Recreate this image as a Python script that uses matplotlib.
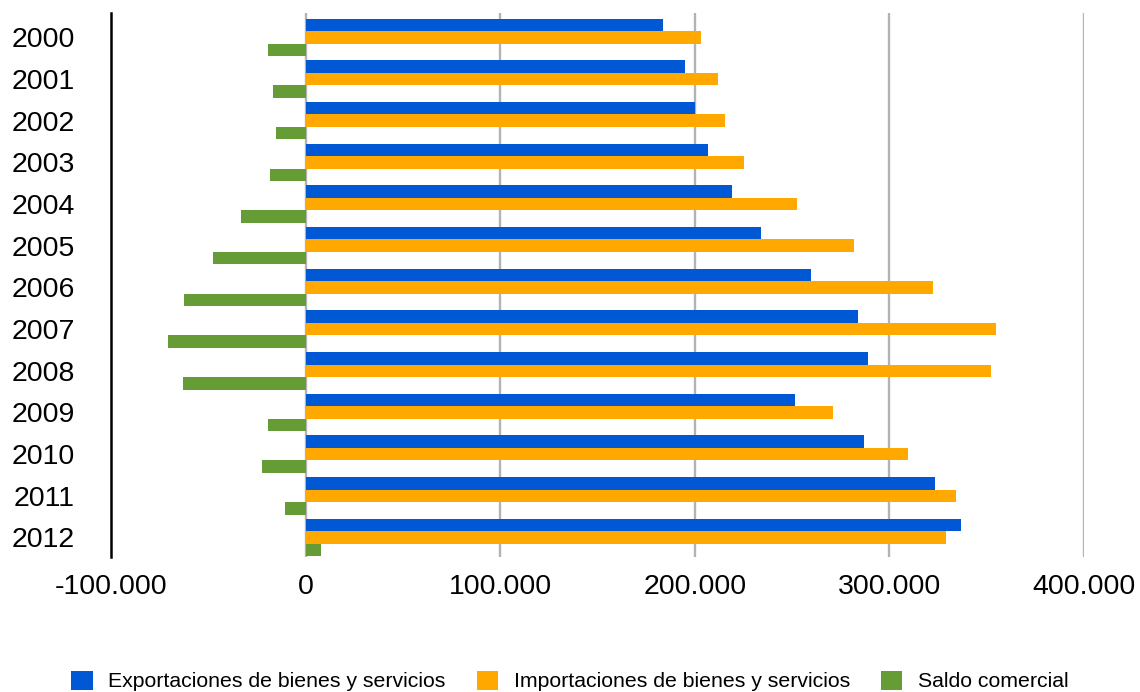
"""Exports, imports and trade balance per year as grouped horizontal bars."""

import matplotlib
matplotlib.use("Agg")
import matplotlib.pyplot as plt
import numpy as np
from matplotlib.ticker import FuncFormatter

years = ["2000", "2001", "2002", "2003", "2004", "2005", "2006",
         "2007", "2008", "2009", "2010", "2011", "2012"]

exportaciones = [183900, 195200, 200300, 207000, 219300, 234200, 259900,
                 284000, 289200, 251700, 287100, 323600, 336900]
importaciones = [203400, 212100, 215700, 225500, 252700, 282000, 322500,
                 354900, 352300, 271200, 309700, 334400, 329200]
saldo = [-19500, -16900, -15400, -18500, -33400, -47800, -62600,
         -70900, -63100, -19500, -22600, -10800, 7700]

labels = ["Exportaciones de bienes y servicios",
          "Importaciones de bienes y servicios",
          "Saldo comercial"]
colours = ["#0058d5", "#fea800", "#669c35"]

plt.rcParams["font.family"] = ["Liberation Sans", "DejaVu Sans"]

fig = plt.figure(figsize=(11.4, 6.92), dpi=100)
ax = fig.add_axes([0.0974, 0.195, 0.8535, 0.786])

y = np.arange(len(years))
h = 0.3
for offset, values, colour, label in zip((-h, 0, h),
                                         (exportaciones, importaciones, saldo),
                                         colours, labels):
    ax.barh(y + offset, values, height=h, color=colour, label=label, zorder=2)

ax.set_xlim(-100000, 400000)
ax.set_ylim(12.47, -0.58)
ax.set_xticks([-100000, 0, 100000, 200000, 300000, 400000])
ax.xaxis.set_major_formatter(
    FuncFormatter(lambda v, _: f"{int(v):,}".replace(",", "."))
)
ax.set_yticks(y)
ax.set_yticklabels(years)
ax.tick_params(axis="both", length=0, labelsize=20.5)
ax.tick_params(axis="x", pad=12)
ax.tick_params(axis="y", pad=26)

# vertical grid only, skipping the left edge where the spine sits
for gx in (0, 100000, 200000, 300000, 400000):
    ax.axvline(gx, color="#b3b3b3", linewidth=1.7, zorder=1)

for side in ("top", "right", "bottom"):
    ax.spines[side].set_visible(False)
ax.spines["left"].set_linewidth(1.8)
ax.spines["left"].set_color("black")

fig.legend(loc="center", bbox_to_anchor=(0.5, 0.016), ncol=3, frameon=False,
           fontsize=15.3, handlelength=1.0, handleheight=1.0,
           handletextpad=0.75, columnspacing=1.45)

fig.savefig("out.png", dpi=100)
